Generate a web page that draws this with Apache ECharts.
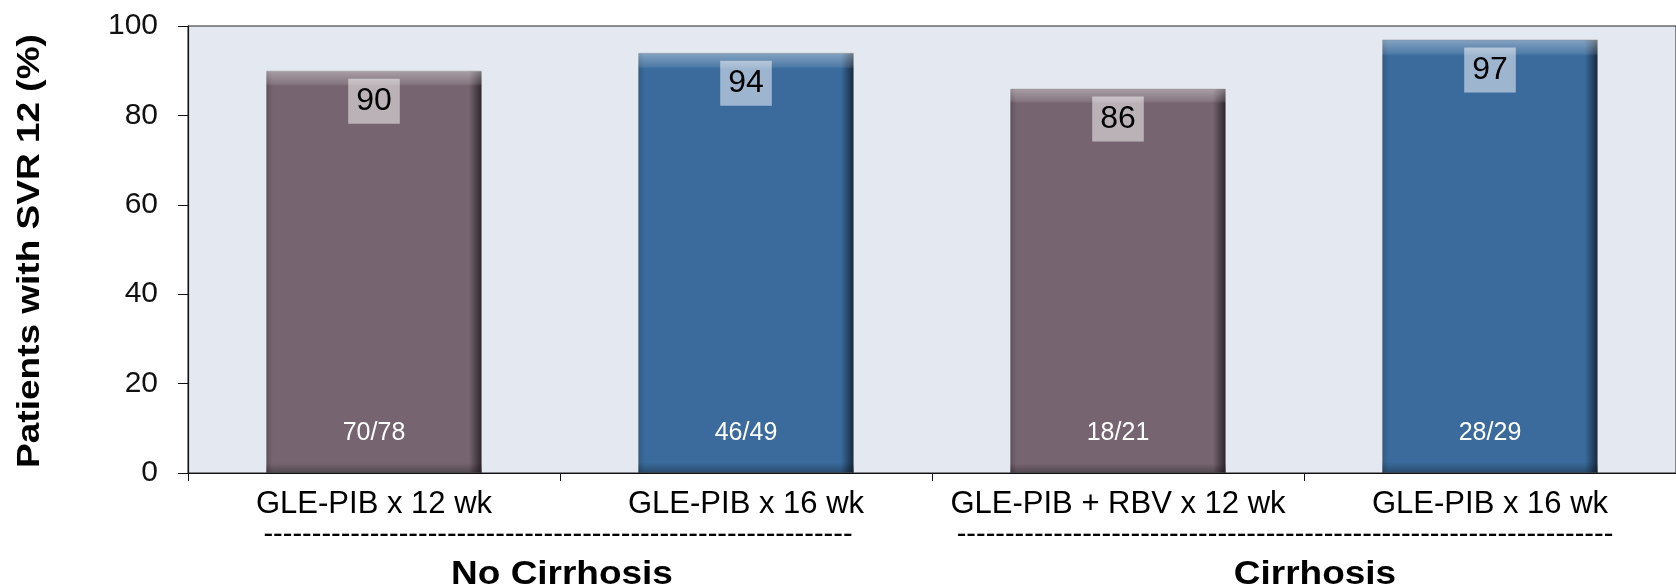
<!DOCTYPE html>
<html>
<head>
<meta charset="UTF-8">
<title>SVR 12</title>
<style>
  html, body { margin: 0; padding: 0; background: #fff; }
  #main { width: 1676px; height: 588px; }
</style>
</head>
<body>
<div id="main"></div>
<script src="https://cdn.jsdelivr.net/npm/echarts@6/dist/echarts.min.js"></script>
<script>
// data
var categories = ['GLE-PIB x 12 wk', 'GLE-PIB x 16 wk', 'GLE-PIB + RBV x 12 wk', 'GLE-PIB x 16 wk'];
var svr = [90, 94, 86, 97];
var fractions = ['70/78', '46/49', '18/21', '28/29'];
var groups = ['No Cirrhosis', 'Cirrhosis'];
var yTitle = 'Patients with SVR 12 (%)';

// bar shades: [left edge, body, right edge]
var purple = ['#5e505a', '#766570', '#2e252c'];
var blue = ['#2f5a85', '#3a6b9c', '#16293d'];
var shades = [purple, blue, purple, blue];

var font = 'Liberation Sans, Arial, sans-serif';

function hGrad(c) {
  return new echarts.graphic.LinearGradient(0, 0, 1, 0, [
    { offset: 0, color: c[0] },
    { offset: 0.03, color: c[1] },
    { offset: 0.94, color: c[1] },
    { offset: 1, color: c[2] }
  ]);
}

var mainData = svr.map(function (v, i) {
  return { value: v, itemStyle: { color: hGrad(shades[i]) } };
});

var chart = echarts.init(document.getElementById('main'));

chart.setOption({
  animation: false,
  backgroundColor: '#ffffff',
  grid: {
    left: 188,
    right: -8,
    top: 26,
    bottom: 115,
    show: true,
    backgroundColor: '#e4e8f0',
    borderColor: '#222',
    borderWidth: 1
  },
  xAxis: {
    type: 'category',
    data: categories,
    axisLine: { lineStyle: { color: '#111', width: 1.2 } },
    axisTick: { show: true, length: 8, lineStyle: { color: '#111' } },
    axisLabel: {
      color: '#000',
      fontFamily: font,
      fontSize: 31,
      margin: 16,
      interval: 0
    }
  },
  yAxis: {
    type: 'value',
    min: 0,
    max: 100,
    interval: 20,
    splitLine: { show: false },
    axisLine: { show: true, lineStyle: { color: '#111', width: 1.2 } },
    axisTick: { show: true, length: 10, lineStyle: { color: '#111' } },
    axisLabel: {
      color: '#111',
      fontFamily: font,
      fontSize: 30,
      margin: 30
    }
  },
  series: [
    {
      type: 'bar',
      data: mainData,
      barCategoryGap: '42%',
      barGap: '-100%',
      itemStyle: { borderColor: 'rgba(60,60,60,0.35)', borderWidth: 1 },
      label: {
        show: true,
        position: 'insideTop',
        distance: 8,
        color: '#000',
        fontFamily: font,
        fontSize: 32,
        lineHeight: 33,
        padding: [6, 8],
        backgroundColor: 'rgba(255,255,255,0.5)'
      },
      z: 2
    },
    {
      // bevel highlight + patient counts
      type: 'bar',
      data: svr,
      barCategoryGap: '42%',
      barGap: '-100%',
      silent: true,
      itemStyle: {
        color: new echarts.graphic.LinearGradient(0, 0, 0, 1, [
          { offset: 0, color: 'rgba(255,255,255,0.38)' },
          { offset: 0.032, color: 'rgba(255,255,255,0.12)' },
          { offset: 0.038, color: 'rgba(255,255,255,0)' },
          { offset: 0.975, color: 'rgba(0,0,0,0)' },
          { offset: 1, color: 'rgba(0,0,0,0.3)' }
        ])
      },
      label: {
        show: true,
        position: 'insideBottom',
        distance: 27,
        color: '#fff',
        fontFamily: font,
        fontSize: 25,
        lineHeight: 25,
        formatter: function (p) { return fractions[p.dataIndex]; }
      },
      z: 3
    }
  ],
  graphic: [
    {
      type: 'text',
      x: 30,
      y: 251,
      rotation: Math.PI / 2,
      scaleY: 0.85,
      style: {
        text: yTitle,
        fontFamily: font,
        fontWeight: 'bold',
        fontSize: 37,
        fill: '#000',
        textAlign: 'center',
        textVerticalAlign: 'middle'
      }
    },
    {
      type: 'text',
      x: 558,
      y: 535,
      style: {
        text: '-'.repeat(61),
        fontFamily: font,
        fontSize: 29,
        fill: '#000',
        textAlign: 'center',
        textVerticalAlign: 'middle'
      }
    },
    {
      type: 'text',
      x: 1285,
      y: 535,
      style: {
        text: '-'.repeat(68),
        fontFamily: font,
        fontSize: 29,
        fill: '#000',
        textAlign: 'center',
        textVerticalAlign: 'middle'
      }
    },
    {
      type: 'text',
      x: 562,
      y: 575,
      scaleX: 1.12,
      style: {
        text: groups[0],
        fontFamily: font,
        fontWeight: 'bold',
        fontSize: 33,
        fill: '#000',
        textAlign: 'center',
        textVerticalAlign: 'middle'
      }
    },
    {
      type: 'text',
      x: 1315,
      y: 575,
      scaleX: 1.12,
      style: {
        text: groups[1],
        fontFamily: font,
        fontWeight: 'bold',
        fontSize: 33,
        fill: '#000',
        textAlign: 'center',
        textVerticalAlign: 'middle'
      }
    }
  ]
});
</script>
</body>
</html>
